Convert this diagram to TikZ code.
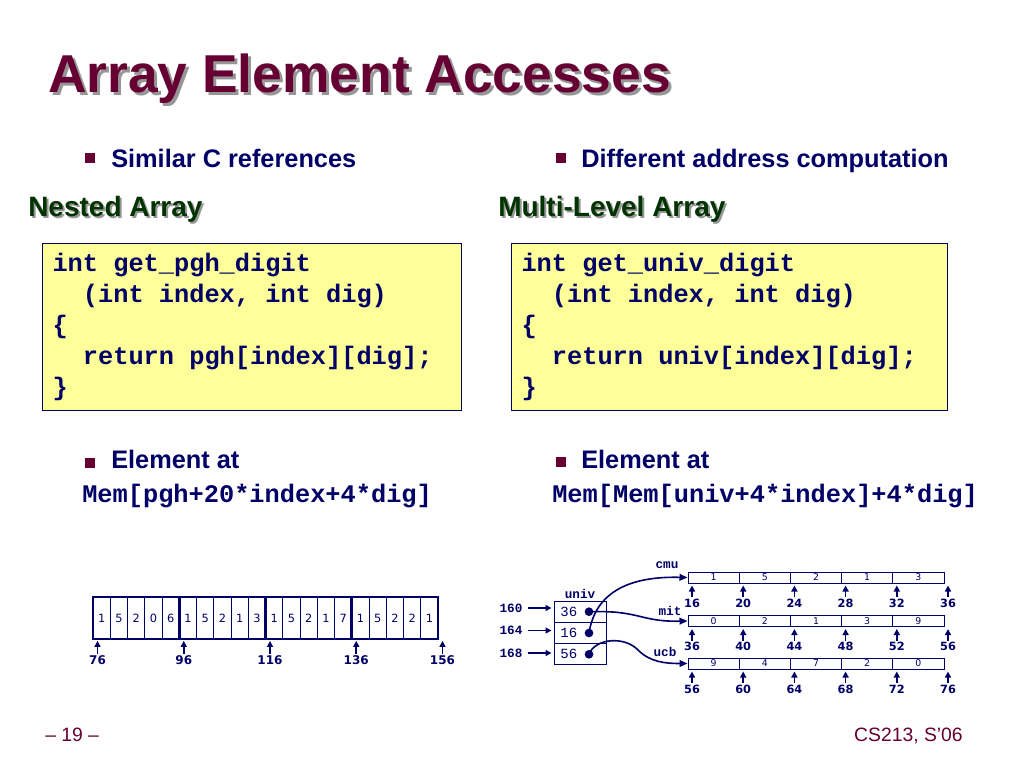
\documentclass[tikz,border=0pt]{standalone}
\usepackage{fontspec}
\setmainfont{Liberation Sans}
\setmonofont{Liberation Mono}
\newfontfamily\numfont{DejaVu Sans}
\usetikzlibrary{positioning,arrows.meta}

\definecolor{navy}{RGB}{0,0,102}
\definecolor{slidemaroon}{RGB}{102,0,51}
\definecolor{headgreen}{RGB}{0,51,0}
\definecolor{codeyellow}{RGB}{255,255,153}
\definecolor{shadowgrey}{RGB}{150,150,150}

\begin{document}
\begin{tikzpicture}[x=0.75pt,y=0.75pt,yscale=-1,xscale=1,
  titletext/.style={anchor=base west, inner sep=0pt, font=\bfseries\fontsize{40}{48}\selectfont},
  headtext/.style={anchor=base west, inner sep=0pt, font=\bfseries\fontsize{21}{25}\selectfont},
  body/.style={anchor=base west, inner sep=0pt, text=navy, font=\bfseries\fontsize{19}{23}\selectfont},
  memtext/.style={anchor=base west, inner sep=0pt, text=navy, font=\ttfamily\bfseries\fontsize{19}{23}\selectfont},
  bulletsq/.style={fill=slidemaroon, minimum size=6.8pt, inner sep=0pt},
  codebox/.style={draw=navy, line width=0.75pt, fill=codeyellow, anchor=north west, align=left,
    inner xsep=7.5pt, inner ysep=0pt, minimum height=125pt, text=navy,
    font=\ttfamily\bfseries\fontsize{19}{23.25}\selectfont},
  ncell/.style={draw=navy, line width=0.6pt, minimum width=12.94pt, minimum height=30.75pt, inner sep=0pt,
    text=navy, font=\numfont\fontsize{8.5}{10}\selectfont},
  rowbox/.style={draw=navy, line width=1.4pt},
  ucell/.style={draw=navy, line width=0.75pt, minimum width=39pt, minimum height=16pt, inner sep=0pt},
  scell/.style={draw=navy, line width=0.75pt, minimum width=38.4pt, minimum height=8.25pt, inner sep=0pt,
    text=navy, font=\numfont\fontsize{7}{8}\selectfont},
  dot/.style={circle, fill=navy, minimum size=6.5pt, inner sep=0pt},
  monolab/.style={inner sep=1pt, text=navy, font=\ttfamily\bfseries\fontsize{9.5}{11}\selectfont},
  uval/.style={inner sep=0pt, text=navy, font=\ttfamily\fontsize{10.5}{12}\selectfont},
  addrlab/.style={inner sep=1pt, text=navy, font=\numfont\bfseries\fontsize{8.5}{10}\selectfont},
  addr/.style={draw=navy, line width=1.2pt, shorten >=1.5pt, -{Triangle[length=4.5pt,width=4.5pt]}},
  ptr/.style={draw=navy, line width=1.2pt, -{Triangle[length=6pt,width=5pt]}},
  foot/.style={inner sep=0pt, text=slidemaroon, font=\fontsize{14.5}{17}\selectfont}]
\useasboundingbox (0,0) rectangle (1024,768);
\fill[white] (0,0) rectangle (1024,768);

% Title
\node[titletext, text=shadowgrey] (titleshadow) at (51,95) {Array Element Accesses};
\node[titletext, text=slidemaroon] (title) at (48,92) {Array Element Accesses};

% Bullets
\node[bulletsq] (bsim) at (90,158) {};
\node[body] (simc) at (111,167) {Similar C references};
\node[bulletsq] (bdiff) at (561,158) {};
\node[body] (diffc) at (581,167) {Different address computation};

% Headings
\node[headtext, text=shadowgrey] (nestedsh) at (30,218) {Nested Array};
\node[headtext, text=headgreen] (nested) at (28,216) {Nested Array};
\node[headtext, text=shadowgrey] (multish) at (500,218) {Multi-Level Array};
\node[headtext, text=headgreen] (multi) at (498,216) {Multi-Level Array};

% Code boxes
\node[codebox, text width=299pt] (pghcode) at (42,243) {\spaceskip=0pt\xspaceskip=0pt int get\_pgh\_digit\\\hphantom{xx}(int index, int dig)\\\{\\\hphantom{xx}return pgh[index][dig];\\\}};
\node[codebox, text width=312pt] (univcode) at (511,243) {\spaceskip=0pt\xspaceskip=0pt int get\_univ\_digit\\\hphantom{xx}(int index, int dig)\\\{\\\hphantom{xx}return univ[index][dig];\\\}};

% Element at
\node[bulletsq] (belL) at (90,463) {};
\node[body] (elemL) at (111,468) {Element at};
\node[memtext] (memL) at (82,502) {Mem[pgh+20*index+4*dig]};
\node[bulletsq] (belR) at (561,462) {};
\node[body] (elemR) at (581,468) {Element at};
\node[memtext] (memR) at (552,502) {Mem[Mem[univ+4*index]+4*dig]};

% Nested array pgh
\foreach \d [count=\i from 0] in {1,5,2,0,6,1,5,2,1,3,1,5,2,1,7,1,5,2,2,1}
  \node[ncell] (pgh\i) at (101.625+17.25*\i,618) {\d};
\foreach \a/\b in {0/4,5/9,10/14,15/19}
  \draw[rowbox] (pgh\a.north west) rectangle (pgh\b.south east);
\foreach \lab [count=\k from 0] in {76,96,116,136,156} {
  \node[addrlab, font=\numfont\bfseries\fontsize{9}{10}\selectfont] (pgha\k) at (97.5+86.25*\k,660) {\lab};
  \draw[addr] (pgha\k.north) -- (pgha\k.north |- pgh0.south);
}

% univ pointer array
\foreach \v/\adr [count=\k from 0] in {36/160,16/164,56/168} {
  \node[ucell] (u\k) at (580,611.7+21.3*\k) {};
  \node[uval, right=5pt of u\k.west] (uv\k) {\v};
  \node[dot] (d\k) at ([shift={(9,0)}]u\k.center) {};
  \node[monolab] (ua\k) at (511,608+22.5*\k) {\adr};
  \draw[addr, shorten <=3pt] (ua\k.east) -- (u\k.west |- ua\k.east);
}
\node[monolab, above=0pt of u0] (univlab) {univ};

% digit arrays
\foreach \nm/\yy/\vals/\base in {cmu/577.5/{1,5,2,1,3}/16, mit/621/{0,2,1,3,9}/36, ucb/663.5/{9,4,7,2,0}/56} {
  \foreach \v [count=\j from 0] in \vals
    \node[scell] (\nm\j) at (713.6+51.2*\j,\yy) {\v};
  \foreach \k in {0,...,5} {
    \pgfmathtruncatemacro\adr{\base+4*\k}
    \node[addrlab] (\nm-adr\k) at (692+51.2*\k,\yy+25.5) {\adr};
    \draw[addr] (\nm-adr\k.north) -- (\nm-adr\k.north |- \nm0.south);
  }
}
\node[monolab] (cmulab) at (667,565) {cmu};
\node[monolab] (mitlab) at (670,611) {mit};
\node[monolab] (ucblab) at (665,652) {ucb};

% Pointers
\draw[ptr] (d0.center) .. controls (640,610) and (640,622) .. (mit0.west);
\draw[ptr] (d1.center) .. controls (595,595) and (625,576) .. (cmu0.west);
\draw[ptr] (d2.center) .. controls (595,638) and (625,636) .. (638,650) .. controls (650,662) and (665,663.5) .. (ucb0.west);

% Footer
\node[foot, anchor=base west] (pagenum) at (45,741) {–\;19\;–};
\node[foot, anchor=base east] (course) at (963,741) {CS213, S’06};

\end{tikzpicture}
\end{document}
